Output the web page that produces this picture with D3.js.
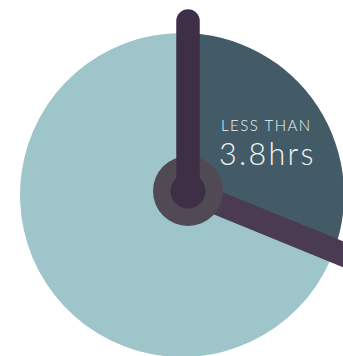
<!DOCTYPE html>
<html>
<head>
<meta charset="utf-8">
<script src="https://cdn.jsdelivr.net/npm/d3@7"></script>
<style>
  html, body { margin: 0; padding: 0; background: #ffffff; }
  svg { display: block; }
</style>
</head>
<body>
<svg id="chart" width="343" height="356"></svg>
<script>
// ---- data ----
const categories = ["Less than 3.8hrs", "Remaining"];
const values = [3.8, 8.2];          // hours on a 12-hour clock face
const clockHours = 12;
const handHours = [0, 3.74];        // minute hand at 12, hour hand as drawn (~3.7-3.8)
const labelSmall = "LESS THAN";
const labelBig = "3.8hrs";

// ---- layout ----
const W = 343, H = 356;
const pieC = { x: 182, y: 195 };
const R = 162;
const hub = { x: 188, y: 191 };

const svg = d3.select("#chart");

const color = d3.scaleOrdinal().domain(categories).range(["#435a67", "#9ec5ca"]);
const angle = d3.scaleLinear().domain([0, clockHours]).range([0, 2 * Math.PI]);

const pie = d3.pie().sort(null).value(d => d.v)
  .startAngle(0).endAngle(angle(d3.sum(values)));
const arcs = pie(categories.map((c, i) => ({ c, v: values[i] })));
const arc = d3.arc().innerRadius(0).outerRadius(R);

const gPie = svg.append("g").attr("transform", `translate(${pieC.x},${pieC.y})`);
gPie.selectAll("path").data(arcs).join("path")
  .attr("d", arc)
  .attr("fill", d => color(d.data.c));

// label (one text element, two lines)
const lab = svg.append("text")
  .attr("font-family", "Lato, 'Open Sans', sans-serif")
  .attr("font-weight", 300)
  .attr("fill", "#eef3f4");
lab.append("tspan")
  .attr("x", 221).attr("y", 131)
  .attr("font-size", 15)
  .attr("letter-spacing", 1.5)
  .text(labelSmall);
lab.append("tspan")
  .attr("x", 219).attr("y", 164.5)
  .attr("font-size", 30.5)
  .attr("letter-spacing", 2.3)
  .text(labelBig);

// hands
const gHands = svg.append("g").attr("transform", `translate(${hub.x},${hub.y})`);
const handPt = (h, len) => {
  const a = angle(h);
  return [len * Math.sin(a), -len * Math.cos(a)];
};
const hourEnd = handPt(handHours[1], 200);
gHands.append("line")
  .attr("x1", 0).attr("y1", 0)
  .attr("x2", hourEnd[0]).attr("y2", hourEnd[1])
  .attr("stroke", "#4a3a52").attr("stroke-width", 24)
  .attr("stroke-linecap", "round");

gHands.append("circle").attr("r", 35).attr("fill", "#514954");

const minEnd = handPt(handHours[0], 170);
gHands.append("line")
  .attr("x1", 0).attr("y1", 0)
  .attr("x2", minEnd[0]).attr("y2", minEnd[1])
  .attr("stroke", "#3e2f46").attr("stroke-width", 23.5)
  .attr("stroke-linecap", "round");

gHands.append("circle").attr("r", 17.5).attr("fill", "#3e2f46");
</script>
</body>
</html>
